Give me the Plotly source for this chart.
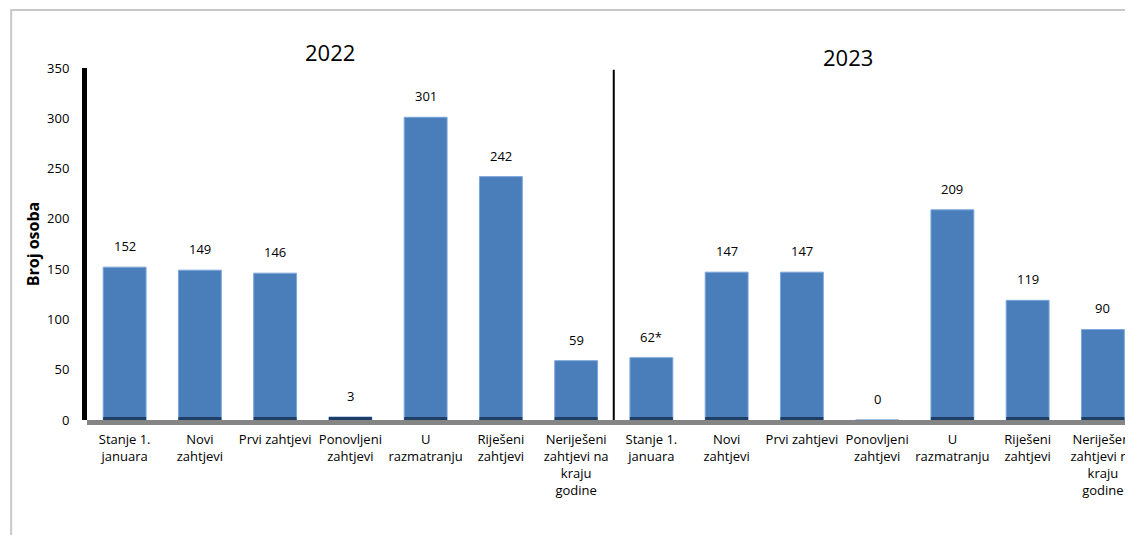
import plotly.graph_objs as go

# data
categories = ['Stanje 1.<br>januara', 'Novi<br>zahtjevi', 'Prvi zahtjevi', 'Ponovljeni<br>zahtjevi',
              'U<br>razmatranju', 'Riješeni<br>zahtjevi', 'Neriješeni<br>zahtjevi na<br>kraju<br>godine']
years = ['2022', '2023']
values_2022 = [152, 149, 146, 3, 301, 242, 59]
values_2023 = [62, 147, 147, 0, 209, 119, 90]
labels_2022 = ['152', '149', '146', '3', '301', '242', '59']
labels_2023 = ['62*', '147', '147', '0', '209', '119', '90']
y_ticks = [0, 50, 100, 150, 200, 250, 300, 350]

values = values_2022 + values_2023
labels = labels_2022 + labels_2023
ticktext = categories + categories
xpos = list(range(len(values)))

font = 'Open Sans, Lato, sans-serif'

# main bars
trace_bars = go.Bar(
    x=xpos, y=values,
    width=0.57,
    marker=dict(color='#4a7ebb', line=dict(color='#7ea7da', width=1)),
    hoverinfo='y',
    showlegend=False
)

# dark base strip at the bottom of every bar
trace_base = go.Bar(
    x=xpos, y=[min(v, 3) for v in values],
    width=0.57,
    marker=dict(color='#1f3e66', line=dict(width=0)),
    hoverinfo='skip',
    showlegend=False
)

annotations = []
for x, v, t in zip(xpos, values, labels):
    annotations.append(dict(x=x, y=v, text=t, showarrow=False, yshift=21,
                            xanchor='center', yanchor='middle',
                            font=dict(size=13, color='black', family=font)))

# year headers
annotations.append(dict(xref='paper', yref='paper', x=0.232, y=1.045, text=years[0], showarrow=False,
                        xanchor='center', yanchor='middle',
                        font=dict(size=22, color='black', family=font)))
annotations.append(dict(xref='paper', yref='paper', x=0.728, y=1.031, text=years[1], showarrow=False,
                        xanchor='center', yanchor='middle',
                        font=dict(size=22, color='black', family=font)))

shapes = [
    # grey floor just under the zero line
    dict(type='rect', xref='paper', yref='paper', x0=0, x1=1, ysizemode='pixel', yanchor=0, y0=-5, y1=0,
         line=dict(width=0), fillcolor='#858585', layer='above'),
    # separator between years
    dict(type='line', xref='x', yref='paper', x0=6.5, x1=6.5, y0=0, y1=0.995,
         line=dict(color='black', width=2)),
    # outer frame
    dict(type='rect', xref='paper', yref='paper', x0=-0.0725, x1=1.2, y0=-0.5, y1=1.165,
         line=dict(color='#c8c8c8', width=2), fillcolor='rgba(0,0,0,0)'),
]

# page body has an 8px margin, so the figure is sized and offset to compensate
layout = go.Layout(
    width=1125, height=527,
    paper_bgcolor='white', plot_bgcolor='white',
    barmode='overlay',
    margin=dict(l=79, r=0, t=60, b=115),
    font=dict(family=font, size=13, color='black'),
    xaxis=dict(
        range=[-0.5, 13.4],
        tickvals=xpos, ticktext=ticktext,
        tickangle=0,
        tickfont=dict(size=13),
        showgrid=False, zeroline=False, showline=False,
        ticks='', ticklabelstandoff=10,
        ticklabeloverflow='allow',
        automargin=False,
        fixedrange=True
    ),
    yaxis=dict(
        range=[0, 350],
        tickvals=y_ticks,
        tickfont=dict(size=13),
        showgrid=False, zeroline=False,
        showline=True, linecolor='black', linewidth=5,
        ticks='', ticklabelstandoff=10,
        title=dict(text='<b>Broj osoba</b>', font=dict(size=16, family=font), standoff=5),
        automargin=False,
        fixedrange=True
    ),
    annotations=annotations,
    shapes=shapes
)

fig = go.Figure(data=[trace_bars, trace_base], layout=layout)
fig.write_html('out.html')
